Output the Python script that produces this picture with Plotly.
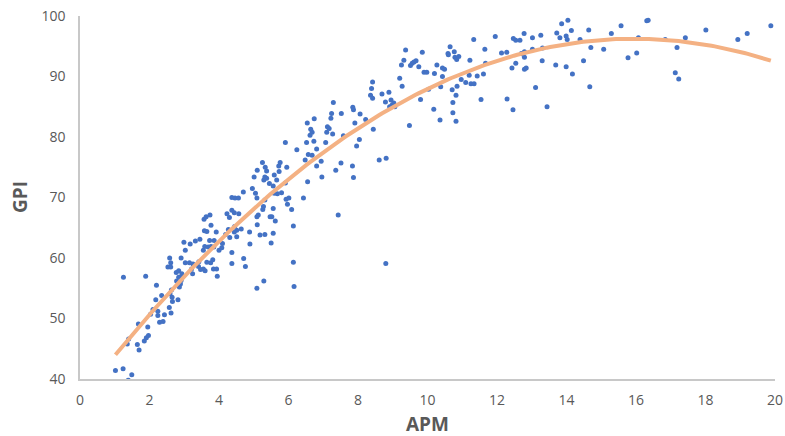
import numpy as np
import plotly.graph_objects as go

apm = [1.25,1.89,1.02,1.24,1.49,1.39,1.40,1.36,1.65,1.70,1.68,1.85,1.91,1.97,1.95,2.03,2.10,2.18,2.20,2.24,
       2.24,2.29,2.39,2.43,2.35,2.57,2.62,2.65,2.66,2.59,2.63,2.82,2.86,2.89,2.91,2.78,2.84,2.94,2.93,2.77,
       2.84,2.53,2.61,2.61,2.58,2.91,3.03,3.03,2.99,3.17,3.32,3.45,3.15,3.25,3.21,3.24,3.42,3.41,3.47,3.55,
       3.60,3.65,3.76,3.82,3.84,3.93,3.95,3.55,3.59,3.69,3.77,3.85,3.73,3.86,3.58,3.65,3.77,3.92,4.00,4.08,
       4.10,3.57,3.63,3.74,4.23,4.37,4.44,4.57,4.30,4.45,4.51,4.64,4.44,4.51,4.31,4.19,4.27,4.37,4.37,4.71,
       4.76,4.89,4.88,5.10,5.09,5.26,5.56,5.62,5.47,5.56,5.50,5.09,5.29,5.18,5.32,5.32,5.13,5.28,5.52,
       4.37,4.46,4.56,4.70,4.96,5.01,5.05,5.09,5.10,5.25,5.33,5.37,5.32,5.37,5.29,5.59,5.66,5.72,5.76,5.73,
       5.45,5.56,5.59,5.68,5.95,5.91,5.91,5.80,5.93,6.01,5.97,6.09,6.24,6.43,6.14,6.14,6.16,6.48,6.52,6.54,
       6.57,6.68,6.64,6.62,6.68,6.73,6.74,6.81,6.55,6.81,6.94,6.96,7.07,7.12,7.17,7.10,7.27,7.24,7.29,7.22,
       7.36,7.43,7.51,7.52,7.58,7.85,7.87,7.84,7.87,7.91,7.96,8.06,8.04,8.22,8.44,8.39,8.42,8.36,8.42,
       8.61,8.81,8.69,8.79,8.89,8.95,8.91,8.98,9.06,9.03,8.80,9.20,9.27,9.25,9.32,9.37,9.48,9.51,9.56,9.61,
       9.67,9.75,9.85,9.80,9.90,9.98,10.03,10.18,10.20,10.27,10.36,10.38,10.43,10.49,10.43,10.59,10.65,10.77,
       10.79,10.90,10.60,10.84,10.71,10.73,10.73,10.82,10.82,10.85,10.97,11.10,11.22,11.20,11.25,11.34,11.33,11.43,
       11.54,11.61,11.67,11.65,11.95,12.13,12.28,12.29,12.46,12.43,12.54,12.47,12.54,12.66,12.78,12.70,12.79,
       12.74,12.79,12.79,12.84,13.02,13.02,13.11,13.26,13.31,13.30,13.44,13.69,13.72,13.81,13.86,13.99,14.02,
       14.04,13.99,14.14,14.17,14.39,14.49,14.64,14.70,14.67,15.07,15.29,15.57,15.77,16.02,16.07,16.31,16.35,
       16.84,17.13,17.23,17.18,17.42,18.01,18.93,19.20,19.88]

gpi = [56.8,57.0,41.4,41.7,40.7,39.8,46.6,45.8,45.7,44.8,49.1,46.3,46.8,47.2,48.6,50.7,51.5,53.1,55.5,51.2,
       50.5,49.4,49.5,50.6,53.8,51.8,50.9,53.5,52.8,54.1,54.7,53.1,55.2,55.7,56.3,56.2,56.8,57.0,57.4,57.6,
       57.9,58.5,58.5,59.2,60.0,60.0,59.2,61.3,62.6,62.3,62.8,63.1,59.2,59.0,58.2,57.4,59.4,58.6,58.1,58.2,
       57.9,59.3,59.2,59.7,58.2,58.2,57.0,61.3,61.9,61.8,61.9,61.8,62.9,62.9,64.5,64.4,65.4,64.3,61.3,61.7,
       62.4,66.4,66.8,67.1,67.3,67.9,67.5,67.3,66.7,65.2,64.6,64.8,64.3,63.5,63.4,63.9,64.7,60.9,59.1,59.9,
       58.6,62.3,64.3,65.5,66.8,68.0,68.2,66.1,66.8,64.1,62.5,55.0,56.2,63.8,63.9,69.6,67.1,68.5,66.8,
       70.0,69.9,69.9,70.9,71.5,73.4,70.7,69.9,74.5,75.8,75.0,74.4,73.4,73.2,72.9,73.7,72.9,75.2,75.8,74.3,
       72.3,71.9,70.7,70.6,75.0,79.1,72.4,70.8,69.7,69.9,68.9,68.0,77.9,69.9,65.3,59.3,55.3,76.2,79.1,82.3,
       77.1,77.0,81.3,80.3,80.8,79.3,83.0,78.0,72.6,75.2,76.0,73.4,79.1,81.7,81.4,80.8,80.5,83.9,85.7,83.1,
       74.5,67.1,75.7,83.9,80.2,84.9,84.5,75.2,73.3,82.3,78.5,83.8,79.6,82.9,81.3,88.0,89.1,86.9,86.4,
       76.2,76.5,87.1,85.8,87.4,86.1,85.0,85.3,85.0,85.6,59.1,89.7,88.4,91.9,92.7,94.4,81.9,91.8,92.2,92.4,
       92.6,91.6,94.0,86.2,90.7,90.7,87.9,84.6,90.5,91.9,82.8,88.3,91.4,91.2,90.0,93.8,94.9,94.1,
       93.2,93.3,93.6,92.8,87.8,85.7,84.0,82.6,86.9,88.4,89.5,89.0,92.7,90.2,88.8,88.8,96.1,90.1,
       86.2,90.4,92.2,94.5,96.6,93.9,94.0,86.3,84.5,91.4,92.2,96.3,96.0,96.0,97.1,93.8,94.1,
       93.7,93.2,91.2,91.4,96.4,94.5,88.2,96.8,94.7,92.6,85.0,91.9,97.2,96.4,98.7,96.7,96.1,
       99.3,91.6,97.6,90.4,96.1,92.6,97.7,94.8,88.3,94.5,97.1,98.4,93.1,93.9,96.4,99.2,99.3,
       96.1,90.6,89.6,94.8,96.4,97.7,96.1,97.1,98.4]

x_ticks = [0, 2, 4, 6, 8, 10, 12, 14, 16, 18, 20]
y_ticks = [40, 50, 60, 70, 80, 90, 100]
x_title = "APM"
y_title = "GPI"

# Polynomial (order 2) trendline, fitted to the data
coef = np.polyfit(apm, gpi, 2)
xt = np.linspace(min(apm), max(apm), 200)
yt = np.polyval(coef, xt)

fig = go.Figure()
fig.add_trace(go.Scatter(x=apm, y=gpi, mode="markers",
                         marker=dict(color="#4472C4", size=5),
                         showlegend=False))
fig.add_trace(go.Scatter(x=xt, y=yt, mode="lines",
                         line=dict(color="#F4B183", width=4), hoverinfo="skip",
                         showlegend=False))

tick_font = dict(family="Open Sans", size=14, color="#595959")
title_font = dict(family="Open Sans", size=19, color="#595959")

W, H = 785, 436
L, R, T, B = 80, 10, 16, 57
ph = H - T - B
pw = W - L - R

fig.update_layout(
    width=W, height=H,
    margin=dict(l=L, r=R, t=T, b=B),
    paper_bgcolor="white", plot_bgcolor="white",
    xaxis=dict(range=[0, 20], tickvals=x_ticks, showgrid=False, zeroline=False,
               showline=True, linecolor="#C8C8C8", linewidth=1.5, ticks="",
               tickfont=tick_font, ticklabelstandoff=7, ticklabeloverflow="allow",
               automargin=False),
    yaxis=dict(range=[40, 100], tickvals=y_ticks, showgrid=False, zeroline=False,
               showline=True, linecolor="#C8C8C8", linewidth=1.5, ticks="",
               tickfont=tick_font, ticklabelstandoff=10, ticklabeloverflow="allow",
               automargin=False),
    annotations=[
        dict(text="<b>" + x_title + "</b>", xref="paper", yref="paper",
             x=0.5, y=-(424 - (H - B)) / ph, xanchor="center", yanchor="middle",
             showarrow=False, font=title_font),
        dict(text="<b>" + y_title + "</b>", xref="paper", yref="paper",
             x=(19.5 - L) / pw, y=0.5, xanchor="center", yanchor="middle",
             textangle=-90, showarrow=False, font=title_font),
    ],
)

# remove the browser's default 8px body margin so the figure fills the window
fig.write_html("out.html", config={"displayModeBar": False},
               post_script="document.body.style.margin='0';")
